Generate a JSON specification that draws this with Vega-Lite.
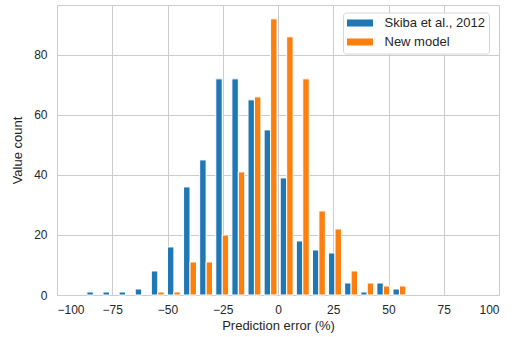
{
  "$schema": "https://vega.github.io/schema/vega-lite/v6.json",
  "width": 442,
  "height": 290,
  "autosize": {"type": "none"},
  "padding": {"left": 57, "top": 5, "right": 17, "bottom": 42},
  "background": "white",
  "config": {
    "font": "Liberation Sans",
    "view": {"stroke": "#cccccc", "strokeWidth": 1},
    "axis": {
      "grid": true,
      "gridColor": "#cccccc",
      "gridWidth": 1,
      "domain": false,
      "ticks": false,
      "labelFontSize": 12,
      "labelColor": "#262626",
      "labelFont": "Liberation Sans",
      "titleFont": "Liberation Sans",
      "titleFontSize": 13,
      "titleFontWeight": "normal",
      "titleColor": "#262626"
    }
  },
  "data": {
    "values": [
      {"bin": -87.2, "series": "Skiba et al., 2012", "count": 1},
      {"bin": -79.91, "series": "Skiba et al., 2012", "count": 1},
      {"bin": -72.62, "series": "Skiba et al., 2012", "count": 1},
      {"bin": -65.33, "series": "Skiba et al., 2012", "count": 2},
      {"bin": -58.04, "series": "Skiba et al., 2012", "count": 8},
      {"bin": -50.75, "series": "Skiba et al., 2012", "count": 16},
      {"bin": -43.46, "series": "Skiba et al., 2012", "count": 36},
      {"bin": -36.17, "series": "Skiba et al., 2012", "count": 45},
      {"bin": -28.88, "series": "Skiba et al., 2012", "count": 72},
      {"bin": -21.59, "series": "Skiba et al., 2012", "count": 72},
      {"bin": -14.3, "series": "Skiba et al., 2012", "count": 65},
      {"bin": -7.01, "series": "Skiba et al., 2012", "count": 55},
      {"bin": 0.28, "series": "Skiba et al., 2012", "count": 39},
      {"bin": 7.57, "series": "Skiba et al., 2012", "count": 18},
      {"bin": 14.86, "series": "Skiba et al., 2012", "count": 15},
      {"bin": 22.15, "series": "Skiba et al., 2012", "count": 14},
      {"bin": 29.44, "series": "Skiba et al., 2012", "count": 4},
      {"bin": 36.73, "series": "Skiba et al., 2012", "count": 1},
      {"bin": 44.02, "series": "Skiba et al., 2012", "count": 4},
      {"bin": 51.31, "series": "Skiba et al., 2012", "count": 2},
      {"bin": -87.2, "series": "New model", "count": 0},
      {"bin": -79.91, "series": "New model", "count": 0},
      {"bin": -72.62, "series": "New model", "count": 0},
      {"bin": -65.33, "series": "New model", "count": 0},
      {"bin": -58.04, "series": "New model", "count": 1},
      {"bin": -50.75, "series": "New model", "count": 1},
      {"bin": -43.46, "series": "New model", "count": 11},
      {"bin": -36.17, "series": "New model", "count": 11},
      {"bin": -28.88, "series": "New model", "count": 20},
      {"bin": -21.59, "series": "New model", "count": 41},
      {"bin": -14.3, "series": "New model", "count": 66},
      {"bin": -7.01, "series": "New model", "count": 92},
      {"bin": 0.28, "series": "New model", "count": 86},
      {"bin": 7.57, "series": "New model", "count": 72},
      {"bin": 14.86, "series": "New model", "count": 28},
      {"bin": 22.15, "series": "New model", "count": 22},
      {"bin": 29.44, "series": "New model", "count": 8},
      {"bin": 36.73, "series": "New model", "count": 4},
      {"bin": 44.02, "series": "New model", "count": 3},
      {"bin": 51.31, "series": "New model", "count": 3}
    ]
  },
  "transform": [
    {"filter": "datum.count > 0"},
    {"calculate": "datum.bin + (datum.series === 'New model' ? 0.5 : 0.1) * 7.29", "as": "x0"},
    {"calculate": "datum.x0 + 0.4 * 7.29", "as": "x1"}
  ],
  "mark": {"type": "bar", "stroke": "white", "strokeWidth": 1},
  "encoding": {
    "x": {
      "field": "x0",
      "type": "quantitative",
      "scale": {"domain": [-100, 100], "nice": false, "zero": false},
      "axis": {"values": [-100, -75, -50, -25, 0, 25, 50, 75, 100], "title": "Prediction error (%)", "labelPadding": 9, "titlePadding": 4}
    },
    "x2": {"field": "x1"},
    "y": {
      "field": "count",
      "type": "quantitative",
      "scale": {"domain": [0, 96.6], "nice": false},
      "axis": {"values": [0, 20, 40, 60, 80], "title": "Value count", "labelPadding": 10, "titlePadding": 9}
    },
    "y2": {"datum": 0},
    "color": {
      "field": "series",
      "type": "nominal",
      "scale": {"domain": ["Skiba et al., 2012", "New model"], "range": ["#1f77b4", "#ff7f0e"]},
      "legend": {
        "title": null,
        "orient": "none",
        "legendX": 286,
        "legendY": 7.5,
        "padding": 4,
        "strokeColor": "#d6d6d6",
        "fillColor": "white",
        "cornerRadius": 3,
        "labelFontSize": 13,
        "labelColor": "#262626",
        "labelFont": "Liberation Sans",
        "labelOffset": 18,
        "symbolOffset": 6.5,
        "symbolType": "M-2,-0.54L2,-0.54L2,0.54L-2,0.54Z",
        "symbolSize": 169,
        "symbolStrokeWidth": 0,
        "rowPadding": 5
      }
    }
  }
}
